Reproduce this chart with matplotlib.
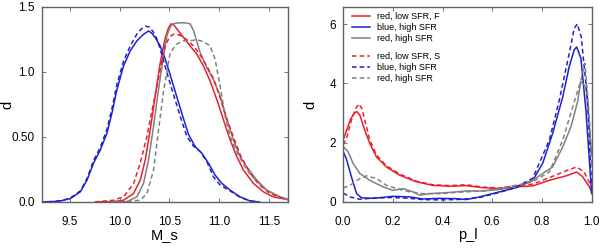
import numpy as np
import matplotlib
matplotlib.use("Agg")
import matplotlib.pyplot as plt

plt.rcParams['font.family'] = ['Liberation Sans', 'DejaVu Sans']

RED = '#e8202a'
BLUE = '#2020cc'
GRAY = '#808080'

# left panel: M_s
ms_blue_x = [9.21, 9.34, 9.42, 9.507, 9.607, 9.674, 9.74, 9.807, 9.874, 9.924, 9.974, 10.04,
             10.107, 10.174, 10.24, 10.29, 10.32, 10.357, 10.407, 10.457, 10.49, 10.557,
             10.624, 10.69, 10.757, 10.824, 10.89, 10.957, 11.024, 11.107, 11.207, 11.307, 11.40]
ms_blue = [0.0, 0.003, 0.01, 0.026, 0.078, 0.168, 0.30, 0.40, 0.53, 0.685, 0.866, 1.047,
           1.163, 1.24, 1.29, 1.315, 1.30, 1.265, 1.20, 1.10, 1.02, 0.85,
           0.68, 0.52, 0.426, 0.375, 0.298, 0.207, 0.143, 0.091, 0.039, 0.008, 0.0]
ms_blue_s_x = [9.21, 9.34, 9.42, 9.507, 9.607, 9.674, 9.74, 9.807, 9.874, 9.924, 9.974, 10.04,
               10.107, 10.174, 10.224, 10.26, 10.30, 10.34, 10.374, 10.407, 10.474, 10.54,
               10.607, 10.674, 10.74, 10.807, 10.874, 10.94, 11.007, 11.107, 11.207, 11.307, 11.40]
ms_blue_s = [0.0, 0.003, 0.01, 0.03, 0.085, 0.18, 0.32, 0.42, 0.56, 0.72, 0.905, 1.085,
             1.20, 1.292, 1.335, 1.352, 1.345, 1.305, 1.253, 1.176, 0.995, 0.827,
             0.659, 0.504, 0.43, 0.388, 0.31, 0.194, 0.13, 0.085, 0.036, 0.007, 0.0]

ms_red_x = [9.8, 9.95, 10.04, 10.14, 10.207, 10.257, 10.307, 10.357, 10.407, 10.457, 10.49,
            10.515, 10.54, 10.574, 10.64, 10.707, 10.774, 10.84, 10.907, 10.974, 11.04,
            11.107, 11.174, 11.24, 11.34, 11.44, 11.54, 11.69]
ms_red = [0.0, 0.004, 0.013, 0.065, 0.168, 0.323, 0.556, 0.814, 1.07, 1.26, 1.34,
          1.37, 1.365, 1.331, 1.266, 1.20, 1.137, 1.047, 0.93, 0.788, 0.633,
          0.478, 0.349, 0.246, 0.143, 0.078, 0.039, 0.017]
ms_red_s_x = [9.75, 9.94, 10.04, 10.14, 10.207, 10.274, 10.34, 10.407, 10.457, 10.50, 10.54,
              10.60, 10.67, 10.74, 10.80, 10.87, 10.94, 11.00, 11.07, 11.14, 11.21, 11.30,
              11.40, 11.50, 11.60, 11.69]
ms_red_s = [0.0, 0.013, 0.04, 0.14, 0.30, 0.504, 0.763, 1.02, 1.20, 1.27, 1.29,
            1.285, 1.25, 1.20, 1.14, 1.05, 0.95, 0.82, 0.65, 0.50, 0.36, 0.23,
            0.13, 0.07, 0.035, 0.017]

ms_gray_x = [9.9, 10.074, 10.174, 10.24, 10.29, 10.34, 10.39, 10.44, 10.474, 10.51, 10.54,
             10.60, 10.66, 10.707, 10.74, 10.807, 10.874, 10.94, 11.007, 11.074, 11.14,
             11.207, 11.274, 11.374, 11.474, 11.607, 11.69]
ms_gray = [0.0, 0.002, 0.039, 0.143, 0.323, 0.581, 0.866, 1.124, 1.28, 1.35, 1.372,
           1.378, 1.378, 1.37, 1.32, 1.15, 1.034, 0.943, 0.814, 0.633, 0.478,
           0.349, 0.271, 0.168, 0.091, 0.039, 0.019]
ms_gray_s_x = [10.0, 10.207, 10.274, 10.34, 10.39, 10.44, 10.507, 10.574, 10.64, 10.707,
               10.774, 10.84, 10.907, 10.957, 11.007, 11.057, 11.107, 11.17, 11.24, 11.30,
               11.374, 11.474, 11.607, 11.69]
ms_gray_s = [0.0, 0.013, 0.065, 0.245, 0.55, 0.85, 1.15, 1.215, 1.24, 1.24,
             1.248, 1.233, 1.20, 1.098, 0.892, 0.659, 0.504, 0.39, 0.29, 0.22,
             0.16, 0.09, 0.039, 0.019]

# right panel: p_l
pl_red_x = [0.0, 0.015, 0.03, 0.045, 0.054, 0.067, 0.087, 0.107, 0.134, 0.174, 0.228, 0.295,
            0.361, 0.428, 0.495, 0.562, 0.629, 0.696, 0.763, 0.830, 0.897, 0.94, 0.964,
            0.991, 1.0]
pl_red = [2.1, 2.45, 2.8, 3.0, 3.05, 2.93, 2.42, 1.97, 1.52, 1.18, 0.90, 0.68,
          0.56, 0.53, 0.55, 0.48, 0.45, 0.51, 0.54, 0.73, 0.88, 1.01, 0.85,
          0.51, 0.34]
pl_red_s_x = [0.0, 0.015, 0.033, 0.05, 0.063, 0.075, 0.087, 0.107, 0.134, 0.174, 0.228, 0.295,
              0.361, 0.428, 0.495, 0.562, 0.629, 0.696, 0.763, 0.830, 0.897, 0.94, 0.97, 1.0]
pl_red_s = [1.93, 2.2, 2.76, 3.15, 3.31, 3.15, 2.76, 2.09, 1.58, 1.22, 0.94, 0.70,
            0.58, 0.55, 0.58, 0.50, 0.47, 0.55, 0.60, 0.82, 1.05, 1.18, 1.01, 0.5]

pl_blue_x = [0.0, 0.013, 0.033, 0.054, 0.074, 0.12, 0.20, 0.268, 0.32, 0.388, 0.455, 0.495,
             0.549, 0.629, 0.696, 0.763, 0.803, 0.843, 0.884, 0.910, 0.930, 0.94, 0.957,
             0.977, 0.991, 1.0]
pl_blue = [1.70, 1.45, 0.85, 0.28, 0.14, 0.12, 0.19, 0.17, 0.10, 0.12, 0.11, 0.08,
           0.17, 0.34, 0.48, 0.73, 1.30, 2.31, 3.55, 4.57, 5.13, 5.23, 4.85,
           3.10, 1.41, 0.28]
pl_blue_s_x = [0.0, 0.027, 0.067, 0.12, 0.20, 0.268, 0.32, 0.388, 0.455, 0.495, 0.549, 0.629,
               0.696, 0.763, 0.830, 0.870, 0.910, 0.930, 0.942, 0.958, 0.984, 1.0]
pl_blue_s = [0.30, 0.17, 0.09, 0.13, 0.15, 0.12, 0.08, 0.07, 0.08, 0.10, 0.15, 0.32,
             0.50, 0.80, 2.09, 3.44, 5.02, 5.85, 6.01, 5.58, 3.44, 0.5]

pl_gray_x = [0.0, 0.02, 0.04, 0.067, 0.107, 0.16, 0.20, 0.241, 0.281, 0.308, 0.348, 0.388,
             0.442, 0.495, 0.562, 0.629, 0.696, 0.763, 0.803, 0.843, 0.884, 0.917, 0.944,
             0.956, 0.977, 0.991, 1.0]
pl_gray = [1.87, 1.69, 1.30, 0.96, 0.73, 0.51, 0.39, 0.45, 0.34, 0.23, 0.28, 0.30,
           0.33, 0.37, 0.37, 0.42, 0.51, 0.73, 0.96, 1.18, 1.86, 2.54, 3.40,
           4.06, 3.89, 2.54, 1.6]
pl_gray_s_x = [0.0, 0.027, 0.067, 0.094, 0.134, 0.174, 0.228, 0.268, 0.32, 0.388, 0.469, 0.562,
               0.696, 0.763, 0.830, 0.884, 0.924, 0.957, 0.973, 0.991, 1.0]
pl_gray_s = [0.47, 0.56, 0.79, 0.88, 0.79, 0.56, 0.42, 0.34, 0.28, 0.28, 0.33, 0.37,
             0.56, 0.68, 1.01, 2.09, 3.21, 4.11, 4.68, 2.87, 1.2]

labels = ['red, low SFR, F', 'blue, high SFR', 'red, high SFR',
          'red, low SFR, S', 'blue, high SFR', 'red, high SFR']


def style(ax):
    for s in ax.spines.values():
        s.set_color('#606060')
        s.set_linewidth(1.0)
    ax.tick_params(direction='in', top=True, right=True, length=3, width=0.6,
                   color='#606060', labelsize=8.5)
    ax.tick_params(axis='x', pad=10)
    ax.tick_params(axis='y', pad=5)


fig = plt.figure(figsize=(6.0, 2.49), dpi=100)
ax1 = fig.add_axes([0.0695, 0.189, 0.411, 0.783])
ax2 = fig.add_axes([0.572, 0.189, 0.414, 0.783])

lw = 1.1
dash = (0, (3, 2))

ax1.plot(ms_red_x, ms_red, color=RED, lw=lw)
ax1.plot(ms_blue_x, ms_blue, color=BLUE, lw=lw)
ax1.plot(ms_gray_x, ms_gray, color=GRAY, lw=lw)
ax1.plot(ms_red_s_x, ms_red_s, color=RED, lw=lw, linestyle=dash)
ax1.plot(ms_blue_s_x, ms_blue_s, color=BLUE, lw=lw, linestyle=dash)
ax1.plot(ms_gray_s_x, ms_gray_s, color=GRAY, lw=lw, linestyle=dash)
ax1.set_xlim(9.22, 11.69)
ax1.set_ylim(0, 1.5)
ax1.set_xticks([9.5, 10.0, 10.5, 11.0, 11.5])
ax1.set_xticklabels(['9.5', '10.0', '10.5', '11.0', '11.5'])
ax1.set_yticks([0, 0.5, 1.0, 1.5])
ax1.set_yticklabels(['0.0', '0.50', '1.0', '1.5'])
ax1.set_xlabel('M_s', fontsize=10.5, labelpad=0)
ax1.set_ylabel('d', fontsize=10.5)
ax1.yaxis.set_label_coords(-0.11, 0.5)
style(ax1)

l1, = ax2.plot(pl_red_x, pl_red, color=RED, lw=lw)
l2, = ax2.plot(pl_blue_x, pl_blue, color=BLUE, lw=lw)
l3, = ax2.plot(pl_gray_x, pl_gray, color=GRAY, lw=lw)
l4, = ax2.plot(pl_red_s_x, pl_red_s, color=RED, lw=lw, linestyle=dash)
l5, = ax2.plot(pl_blue_s_x, pl_blue_s, color=BLUE, lw=lw, linestyle=dash)
l6, = ax2.plot(pl_gray_s_x, pl_gray_s, color=GRAY, lw=lw, linestyle=dash)
ax2.set_xlim(0, 1)
ax2.set_ylim(0, 6.58)
ax2.set_xticks([0, 0.2, 0.4, 0.6, 0.8, 1.0])
ax2.set_xticklabels(['0.0', '0.2', '0.4', '0.6', '0.8', '1.0'])
ax2.set_yticks([0, 2, 4, 6])
ax2.set_xlabel('p_l', fontsize=10.5, labelpad=0)
ax2.set_ylabel('d', fontsize=10.5)
ax2.yaxis.set_label_coords(-0.105, 0.5)
style(ax2)

leg_kw = dict(loc='upper left', frameon=False, fontsize=6.5, handlelength=2.0,
              labelspacing=0.25, borderpad=0, borderaxespad=0, handletextpad=0.8)
leg1 = ax2.legend([l1, l2, l3], labels[:3], bbox_to_anchor=(0.035, 0.975), **leg_kw)
ax2.add_artist(leg1)
ax2.legend([l4, l5, l6], labels[3:], bbox_to_anchor=(0.035, 0.77), **leg_kw)

fig.savefig('out.png', dpi=100)
